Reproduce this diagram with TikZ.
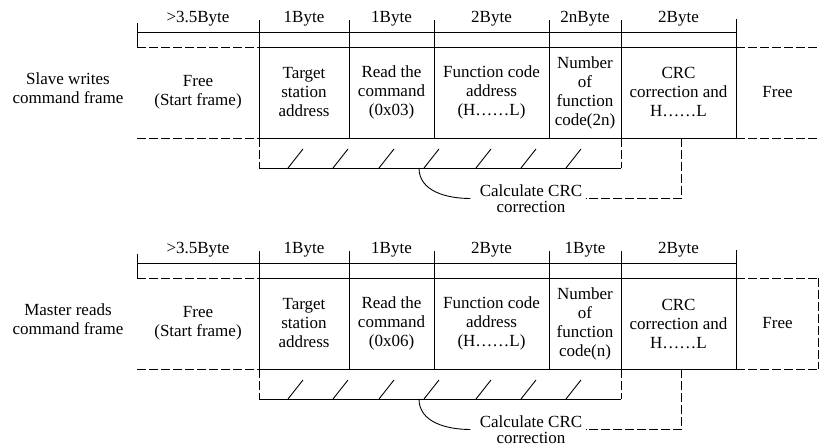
\documentclass[tikz,border=0pt]{standalone}
\usepackage{fontspec}
\setmainfont{Liberation Serif}
\usetikzlibrary{positioning}

\tikzset{
  field/.style={draw, rectangle, outer sep=0pt, inner sep=0pt, minimum height=91pt, align=center},
  blank/.style={field, draw=none},
  dashedge/.style={dash pattern=on 9pt off 3pt},
  bytes/.style={anchor=base, inner sep=0pt}
}

% #1 prefix, #2 title, #3 command code, #4 size of count field, #5 count text
\newcommand{\drawframe}[5]{%
  \node (#1title) [align=center] at (68,358) {#2};
  \node (#1addr) [field, minimum width=90pt, anchor=north west] at (259,399) {Target\\station\\address};
  \node (#1start) [blank, minimum width=122pt, left=0pt of #1addr] {Free\\(Start frame)};
  \node (#1cmd) [field, minimum width=85pt, right=0pt of #1addr] {Read the\\command\\(#3)};
  \node (#1func) [field, minimum width=115pt, right=0pt of #1cmd] {Function code\\address\\(H……L)};
  \node (#1num) [field, minimum width=72pt, right=0pt of #1func] {Number\\of\\function\\#5};
  \node (#1crc) [field, minimum width=115pt, right=0pt of #1num] {CRC\\correction and\\H……L};
  \node (#1idle) [blank, minimum width=83pt, right=0pt of #1crc] {Free};

  % header row
  \draw ([yshift=15pt]#1start.north west) -- ([yshift=15pt]#1crc.north east);
  \draw (#1start.north west) -- ++(0,24);
  \foreach \cell in {addr,cmd,func,num,crc}
    \draw (#1\cell.north west) -- ++(0,27);
  \draw (#1crc.north east) -- ++(0,28);
  \foreach \cell/\sz in {start/>3.5Byte, addr/1Byte, cmd/1Byte, func/2Byte, num/#4, crc/2Byte}
    \node (#1b\cell) [bytes] at ([yshift=24.5pt]#1\cell.north) {\sz};
  \draw[dashedge] (#1start.north west) -- (#1start.north east)
                  (#1start.south west) -- (#1start.south east);
  \draw[dashedge] (#1idle.north west) -- (#1idle.north east)
                  (#1idle.south west) -- (#1idle.south east);

  % CRC range
  \draw[dashedge] (#1addr.south west) -- ++(0,-30) coordinate (#1hl);
  \draw[dashedge] (#1num.south east) -- ++(0,-30) coordinate (#1hr);
  \draw (#1hl) -- (#1hr);
  \foreach \x in {29,74,120,165,217,262,307}
    \draw ([xshift=\x]#1hl) -- ++(15,19);
  \path (#1hl) ++(160,0) coordinate (#1tap);
  \node (#1calc) [align=center, inner sep=2pt, font=\fontsize{17}{16.5}\selectfont] at (531,247.5) {Calculate CRC\\correction};
  \draw (#1tap) to[out=-90, in=180] ([xshift=-7pt]#1calc.west);
  \draw[dashedge] ([xshift=3pt]#1crc.south) |- ([xshift=1pt]#1calc.east);
}

\begin{document}
\begin{tikzpicture}[x=1pt, y=1pt, line width=0.9pt,
  every node/.style={font=\fontsize{17}{19}\selectfont}]
\useasboundingbox (0,0) rectangle (819,446);

\drawframe{s}{Slave writes\\command frame}{0x03}{2nByte}{code(2n)}

\begin{scope}[yshift=-231]
\drawframe{m}{Master reads\\command frame}{0x06}{1Byte}{code(n)}
\draw[dashedge] ([xshift=-1pt]midle.north east) -- ([xshift=-1pt]midle.south east);
\end{scope}
\end{tikzpicture}
\end{document}
